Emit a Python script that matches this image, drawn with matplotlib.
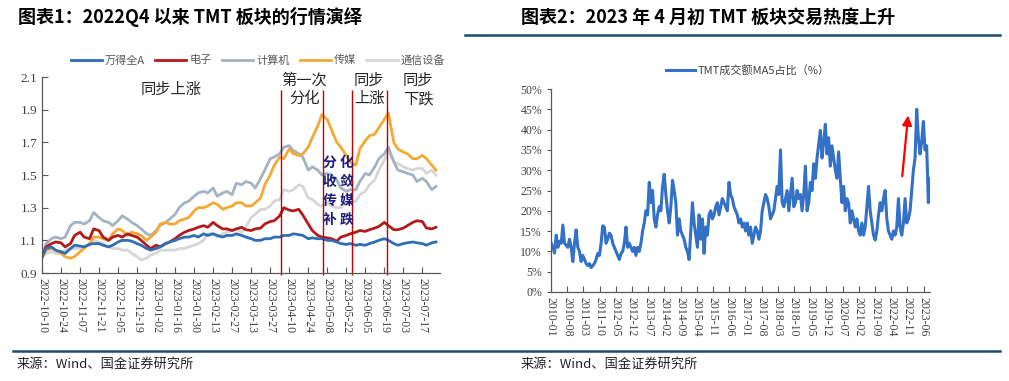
import matplotlib
matplotlib.use('Agg')
import matplotlib.pyplot as plt
import pandas as pd

plt.rcParams['font.family'] = ['Noto Sans CJK SC', 'DejaVu Sans']
CJK = ['Noto Sans CJK SC', 'DejaVu Sans']
NUM = 'Liberation Serif'

# ---- chart 1: index level relative to 2022-10-10, sampled Mon / Thu
wind_a = [1.00, 1.05, 1.06, 1.04, 1.03, 1.02, 1.05, 1.07, 1.065, 1.06, 1.075, 1.08,
          1.08, 1.07, 1.06, 1.07, 1.09, 1.10, 1.10, 1.095, 1.08, 1.07, 1.05, 1.04,
          1.05, 1.06, 1.08, 1.09, 1.10, 1.11, 1.12, 1.12, 1.13, 1.12, 1.14, 1.13,
          1.14, 1.13, 1.12, 1.13, 1.13, 1.14, 1.13, 1.12, 1.11, 1.10, 1.10, 1.11,
          1.11, 1.12, 1.12, 1.13, 1.13, 1.14, 1.135, 1.13, 1.11, 1.115, 1.11, 1.11,
          1.10, 1.10, 1.09, 1.08, 1.075, 1.08, 1.07, 1.075, 1.07, 1.08, 1.09, 1.10,
          1.11, 1.10, 1.08, 1.07, 1.08, 1.085, 1.09, 1.085, 1.08, 1.07, 1.085, 1.09]
elec = [1.00, 1.06, 1.08, 1.09, 1.085, 1.06, 1.08, 1.13, 1.15, 1.12, 1.11, 1.17,
        1.16, 1.12, 1.10, 1.12, 1.13, 1.12, 1.14, 1.13, 1.12, 1.10, 1.07, 1.05,
        1.07, 1.06, 1.08, 1.09, 1.11, 1.13, 1.15, 1.16, 1.17, 1.18, 1.19, 1.18,
        1.21, 1.19, 1.17, 1.17, 1.16, 1.17, 1.18, 1.165, 1.16, 1.17, 1.175, 1.20,
        1.215, 1.22, 1.25, 1.30, 1.285, 1.28, 1.29, 1.255, 1.20, 1.16, 1.13, 1.12,
        1.115, 1.11, 1.095, 1.12, 1.13, 1.14, 1.15, 1.16, 1.155, 1.165, 1.175, 1.185,
        1.21, 1.19, 1.165, 1.165, 1.175, 1.19, 1.21, 1.22, 1.215, 1.175, 1.17, 1.18]
computer = [1.00, 1.08, 1.11, 1.12, 1.11, 1.12, 1.19, 1.21, 1.21, 1.20, 1.22, 1.27,
            1.24, 1.22, 1.21, 1.19, 1.22, 1.25, 1.23, 1.21, 1.19, 1.17, 1.14, 1.13,
            1.16, 1.19, 1.21, 1.23, 1.26, 1.30, 1.33, 1.34, 1.37, 1.39, 1.40, 1.39,
            1.42, 1.37, 1.39, 1.40, 1.38, 1.45, 1.44, 1.46, 1.45, 1.42, 1.48, 1.53,
            1.60, 1.61, 1.63, 1.67, 1.68, 1.65, 1.63, 1.61, 1.53, 1.55, 1.53, 1.50,
            1.51, 1.50, 1.47, 1.42, 1.40, 1.41, 1.41, 1.46, 1.51, 1.50, 1.55, 1.60,
            1.63, 1.67, 1.58, 1.53, 1.52, 1.51, 1.50, 1.46, 1.48, 1.46, 1.41, 1.43]
media = [0.99, 1.04, 1.05, 1.04, 1.02, 1.00, 0.99, 1.00, 1.03, 1.05, 1.08, 1.12,
         1.12, 1.11, 1.10, 1.14, 1.17, 1.16, 1.13, 1.15, 1.14, 1.13, 1.10, 1.12,
         1.15, 1.20, 1.21, 1.20, 1.20, 1.22, 1.23, 1.24, 1.28, 1.30, 1.30, 1.31,
         1.33, 1.32, 1.29, 1.30, 1.31, 1.33, 1.33, 1.31, 1.31, 1.33, 1.36, 1.44,
         1.50, 1.56, 1.61, 1.60, 1.66, 1.63, 1.62, 1.63, 1.67, 1.73, 1.80, 1.87,
         1.84, 1.78, 1.70, 1.67, 1.62, 1.58, 1.56, 1.66, 1.71, 1.74, 1.75, 1.79,
         1.84, 1.88, 1.70, 1.66, 1.64, 1.63, 1.60, 1.60, 1.62, 1.60, 1.56, 1.53]
telecom = [1.00, 1.02, 1.03, 1.02, 1.02, 1.04, 1.05, 1.05, 1.05, 1.06, 1.07, 1.10,
           1.09, 1.08, 1.06, 1.05, 1.05, 1.04, 1.04, 1.02, 1.00, 0.98, 0.99, 1.01,
           1.02, 1.04, 1.04, 1.04, 1.04, 1.05, 1.05, 1.06, 1.07, 1.08, 1.10, 1.14,
           1.14, 1.12, 1.14, 1.15, 1.16, 1.17, 1.15, 1.18, 1.24, 1.26, 1.29, 1.29,
           1.31, 1.34, 1.35, 1.41, 1.40, 1.41, 1.44, 1.43, 1.36, 1.35, 1.32, 1.31,
           1.33, 1.31, 1.30, 1.30, 1.33, 1.33, 1.34, 1.38, 1.40, 1.44, 1.47, 1.53,
           1.59, 1.65, 1.58, 1.57, 1.55, 1.54, 1.53, 1.54, 1.54, 1.51, 1.53, 1.50]
split_dates = ['2023-04-04', '2023-05-05', '2023-05-26', '2023-06-21']

# ---- chart 2: TMT turnover share (MA5, %)
tmt_share = [12, 11, 9.6, 14, 11, 12.5, 12, 16.5, 12, 11.5,
             11, 13, 11, 7.5, 12, 15.3, 11, 10, 7.5, 9,
             8, 7, 6.5, 7, 6, 6.5, 7, 8, 9.5, 9,
             12, 16.3, 16, 12, 13, 14.5, 14, 12, 11, 10,
             9, 8, 9.5, 10, 12, 16, 11, 12, 11, 10,
             11, 9, 11, 10, 12, 15, 17, 20, 19, 27,
             22, 25, 18, 16, 19, 21, 20, 26, 29, 24,
             20, 17, 21, 27.5, 25, 22, 14,
             18, 15, 14, 13, 11, 10, 8, 15, 22, 17,
             14, 11, 19, 13, 18, 9.5, 16, 14, 19, 20,
             18, 19, 21, 22, 19, 21, 23, 22, 21, 20,
             27, 24, 23, 21, 20, 19, 17, 18, 16, 17,
             15, 17, 14, 16, 12, 14, 16, 15, 13, 15,
             20, 22, 24, 23, 21, 18, 19, 20, 23, 26,
             24, 35, 22, 21, 23, 25, 20, 24, 28, 21,
             22, 25, 23, 24,
             20, 24, 31, 20, 22, 27, 25, 31.6, 28, 33,
             36.5, 39.8, 33, 37, 41.3, 34, 38, 31, 36, 33,
             30, 28, 34.5, 28, 22, 26, 20, 23, 22, 17,
             20, 18, 16, 18, 15, 14, 17, 14, 16, 21,
             26, 20, 17, 14, 12.8, 15, 19, 22, 20, 23,
             25, 18, 15, 14, 13, 15, 14, 16, 23, 16,
             14, 17, 23, 17, 18, 20, 25, 30, 33, 45,
             38, 34, 37, 42, 35, 36, 22, 28]

mondays = pd.date_range('2022-10-10', '2023-07-24', freq='7D')
left_dates = mondays.append(mondays + pd.Timedelta(days=3)).sort_values()
right_dates = pd.date_range('2010-01-04', '2023-08-25', periods=len(tmt_share))

fig = plt.figure(figsize=(10.09, 3.81), dpi=100)
W, H = 1009, 381


def fx(px):
    return px / W


def fy(py):
    return 1 - py / H


rule = '#1d4a66'
fig.add_artist(plt.Line2D([fx(465), fx(1000)], [fy(35), fy(35)], color=rule, lw=1.8))
fig.add_artist(plt.Line2D([fx(13), fx(1000)], [fy(351), fy(351)], color=rule, lw=1.8))
fig.text(fx(18), fy(17), '图表1：2022Q4 以来 TMT 板块的行情演绎', fontsize=13,
         fontweight='bold', va='center', ha='left', family=CJK)
fig.text(fx(521), fy(17), '图表2：2023 年 4 月初 TMT 板块交易热度上升', fontsize=13,
         fontweight='bold', va='center', ha='left', family=CJK)
for x0 in (17, 521):
    fig.text(fx(x0), fy(364), '来源：Wind、国金证券研究所', fontsize=9.5,
             va='center', ha='left', color='#222222', family=CJK)

# ---------------- left chart
ax = fig.add_axes([fx(42), fy(273), fx(440) - fx(42), fy(77) - fy(273)])
series = [('通信设备', telecom, '#d6d6d6'), ('计算机', computer, '#a3b3c3'),
          ('传媒', media, '#f5a935'), ('电子', elec, '#b31b1b'),
          ('万得全A', wind_a, '#2f6db5')]
handles = {}
for name, vals, col in series:
    handles[name], = ax.plot(left_dates, vals, color=col, lw=2.0, label=name)

ax.set_ylim(0.9, 2.1)
ax.set_yticks([0.9, 1.1, 1.3, 1.5, 1.7, 1.9, 2.1])
ax.set_yticklabels(['0.9', '1.1', '1.3', '1.5', '1.7', '1.9', '2.1'],
                   fontsize=9.5, fontfamily=NUM, color='#404040')
ax.set_xlim(pd.Timestamp('2022-10-10'), pd.Timestamp('2023-07-30'))
xt = pd.date_range('2022-10-10', '2023-07-17', freq='14D')
ax.set_xticks(xt)
ax.set_xticklabels([d.strftime('%Y-%m-%d') for d in xt], rotation=270,
                   fontsize=8.5, fontfamily=NUM, color='#404040')
ax.tick_params(axis='both', direction='in', length=4, width=0.8, color='#595959')
for s in ('top', 'right'):
    ax.spines[s].set_visible(False)
for s in ('left', 'bottom'):
    ax.spines[s].set_color('#595959')
    ax.spines[s].set_linewidth(0.9)

ax.vlines(pd.to_datetime(split_dates), 0.885, 2.02, color='#c00000', lw=1.0, clip_on=False)

ax.text(pd.Timestamp('2023-01-13'), 2.025, '同步上涨', fontsize=11, ha='center',
        va='center', color='#262626', family=CJK)
ax.text(pd.Timestamp('2023-04-21'), 2.025, '第一次\n分化', fontsize=11, ha='center',
        va='center', color='#262626', linespacing=1.1, family=CJK)
ax.text(pd.Timestamp('2023-06-08'), 2.025, '同步\n上涨', fontsize=11, ha='center',
        va='center', color='#262626', linespacing=1.1, family=CJK)
ax.text(pd.Timestamp('2023-07-14'), 2.025, '同步\n下跌', fontsize=11, ha='center',
        va='center', color='#262626', linespacing=1.1, family=CJK)
ax.text(pd.Timestamp('2023-05-16'), 1.40, '分 化\n收 敛\n传 媒\n补 跌', fontsize=10,
        ha='center', va='center', color='#1c1c7a', fontweight='bold',
        linespacing=1.45, family=CJK)

order = ['万得全A', '电子', '计算机', '传媒', '通信设备']
fig.legend([handles[n] for n in order], order, loc='center',
           bbox_to_anchor=(fx(258), fy(60)), ncol=5, frameon=False, fontsize=8,
           handlelength=2.8, handletextpad=0.3, columnspacing=0.9,
           labelcolor='#595959')

# ---------------- right chart
ax2 = fig.add_axes([fx(551), fy(292), fx(930) - fx(551), fy(89) - fy(292)])
line2, = ax2.plot(right_dates, tmt_share, color='#3371c6', lw=2.2)
ax2.set_ylim(0, 50)
ax2.set_yticks(range(0, 51, 5))
ax2.set_yticklabels([f'{v}%' for v in range(0, 51, 5)], fontsize=8.5,
                    fontfamily=NUM, color='#404040')
ax2.set_xlim(pd.Timestamp('2010-01-01'), pd.Timestamp('2023-08-25'))
xt2 = pd.date_range('2010-01-01', '2023-06-01', freq='7MS')
ax2.set_xticks(xt2)
ax2.set_xticklabels([d.strftime('%Y-%m') for d in xt2], rotation=270,
                    fontsize=8.5, fontfamily=NUM, color='#404040')
ax2.tick_params(axis='x', direction='in', length=4, width=0.8, color='#595959')
ax2.tick_params(axis='y', direction='out', length=3, width=0.8, color='#595959')
for s in ('top', 'right'):
    ax2.spines[s].set_visible(False)
for s in ('left', 'bottom'):
    ax2.spines[s].set_color('#595959')
    ax2.spines[s].set_linewidth(0.9)

ax2.annotate('', xy=(pd.Timestamp('2022-11-10'), 43.5),
             xytext=(pd.Timestamp('2022-08-25'), 28.5),
             arrowprops=dict(arrowstyle='-|>', color='#ff0000', lw=1.6,
                             mutation_scale=14, shrinkA=0, shrinkB=0))

fig.legend([line2], ['TMT成交额MA5占比（%）'], loc='center',
           bbox_to_anchor=(fx(748), fy(70)), frameon=False, fontsize=8,
           handlelength=2.6, handletextpad=0.3, labelcolor='#404040')

fig.savefig('out.png', dpi=100)
